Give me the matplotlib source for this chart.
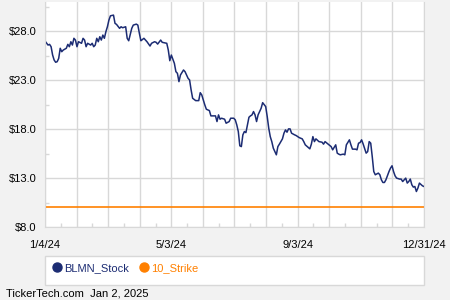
import numpy as np
import matplotlib
matplotlib.use("Agg")
import matplotlib.pyplot as plt
from matplotlib.lines import Line2D

plt.rcParams['font.family'] = ['Liberation Sans', 'DejaVu Sans']

# trading day index (0 = 1/4/24, 249 = 12/31/24) and closing price
day = [0, 2, 3, 4, 5, 6, 7, 8, 9, 10, 11, 12, 14, 15, 16, 17, 18, 19, 20, 21,
       22, 24, 25, 26, 27, 28, 30, 31, 32, 33, 34, 35, 36, 37, 38, 39, 40, 41, 42, 43,
       45, 46, 47, 49, 50, 51, 53, 54, 55, 57, 58, 60, 61, 62, 63, 65, 67, 69, 70, 72,
       73, 74, 76, 77, 80, 81, 82, 83, 85, 86, 87, 88, 89, 91, 92, 94, 95, 96, 97, 99,
       100, 101, 102, 103, 105, 106, 108, 109, 110, 112, 113, 114, 115, 116, 118, 119, 121, 122, 124, 125,
       126, 127, 128, 129, 130, 131, 132, 134, 135, 136, 137, 138, 139, 140, 141, 142, 143, 145, 146, 147,
       148, 149, 150, 152, 153, 154, 156, 157, 158, 159, 160, 161, 162, 164, 165, 167, 169, 170, 171, 174,
       175, 176, 177, 178, 180, 182, 183, 184, 186, 187, 188, 189, 191, 192, 193, 194, 196, 197, 198, 200,
       201, 202, 204, 205, 206, 207, 208, 209, 211, 212, 213, 214, 215, 216, 217, 219, 220, 221, 222, 223,
       224, 226, 227, 228, 229, 230, 231, 233, 234, 235, 237, 238, 239, 240, 241, 242, 243, 244, 245, 246,
       248, 249]
price = [27.01, 26.60, 26.67, 26.43, 25.58, 25.07, 24.84, 24.90, 25.24, 26.27, 25.92, 26.09, 26.27, 26.67, 26.43, 26.94, 26.60, 27.29, 27.11, 26.43,
         26.94, 26.78, 27.29, 27.11, 26.43, 26.78, 26.60, 26.78, 26.43, 26.60, 27.29, 26.94, 27.45, 27.11, 27.62, 27.29, 27.96, 28.47, 29.15, 29.59,
         29.66, 28.82, 28.71, 28.31, 28.47, 28.37, 28.47, 27.29, 27.04, 28.31, 28.64, 28.74, 28.64, 27.80, 27.04, 27.29, 26.94, 26.50, 26.78, 26.94,
         26.88, 26.70, 27.11, 26.88, 26.78, 26.09, 25.00, 25.58, 24.73, 23.88, 23.71, 22.86, 23.54, 24.05, 23.88, 23.20, 23.03, 22.01, 21.16, 20.92,
         20.92, 20.92, 21.73, 21.50, 20.48, 20.04, 19.90, 19.36, 19.36, 19.36, 18.78, 19.46, 19.02, 19.12, 19.02, 18.61, 18.78, 19.12, 19.12, 18.95,
         18.44, 17.76, 16.30, 16.22, 17.42, 17.76, 17.65, 19.22, 19.36, 19.46, 19.80, 19.46, 18.78, 19.46, 19.80, 20.14, 20.71, 20.31, 19.29, 18.10,
         17.24, 16.73, 16.06, 15.38, 16.22, 16.47, 17.01, 17.59, 17.93, 17.69, 18.03, 18.03, 17.59, 17.42, 17.35, 17.14, 17.01, 16.73, 16.40, 15.99,
         16.47, 17.24, 16.73, 17.01, 16.73, 16.67, 16.47, 16.73, 16.47, 16.33, 16.22, 15.89, 16.40, 15.55, 15.45, 15.38, 15.45, 15.38, 16.40, 16.91,
         16.40, 15.96, 15.96, 15.89, 16.57, 16.63, 16.91, 16.50, 15.55, 15.71, 16.73, 16.57, 15.20, 13.67, 13.34, 13.51, 13.34, 12.83, 12.55, 12.55,
         12.83, 13.67, 14.02, 14.26, 13.67, 13.23, 13.00, 12.90, 12.90, 12.65, 13.00, 12.49, 12.65, 12.90, 12.32, 12.08, 12.14, 11.63, 11.98, 12.49,
         12.21, 12.14]
strike = 10.0

yticks = [8, 13, 18, 23, 28]
xlabels = ["1/4/24", "5/3/24", "9/3/24", "12/31/24"]

navy = "#1c2c73"
orange = "#ff8000"
grid = "#d8d8d8"

fig = plt.figure(figsize=(4.5, 3), dpi=100, facecolor="#f2f2f2")
ax = fig.add_axes([0.1, 0.2433, 0.8422, 0.75])
ax.set_facecolor("white")

ax.plot(day, price, color=navy, lw=1.1)
ax.axhline(strike, color=orange, lw=1.2)

last = 249
ax.set_xlim(0, last)
ax.set_ylim(8, 31)

# 12 equal intervals, a label on every 4th line
grid_days = np.linspace(0, last, 13)
ax.set_xticks(grid_days)
ax.set_xticklabels([xlabels[i // 4] if i % 4 == 0 else "" for i in range(13)])
ax.set_xticks((grid_days[:-1] + grid_days[1:]) / 2, minor=True)
ax.set_yticks(yticks)
ax.set_yticklabels(["$%.1f" % v for v in yticks])
ax.set_yticks([v + 2.5 for v in yticks], minor=True)

ax.grid(True, which="major", color=grid, lw=1.0)
ax.tick_params(which="major", length=0, labelsize=8, pad=6)
ax.tick_params(axis="x", which="major", pad=9)
ax.tick_params(which="minor", direction="in", length=3, color=grid, width=1)
for s in ax.spines.values():
    s.set_color(grid)
ax.spines["top"].set_visible(False)

handles = [Line2D([], [], ls="", marker="o", ms=6.5, color=navy),
           Line2D([], [], ls="", marker="o", ms=6.5, color=orange)]
leg = fig.legend(handles, ["BLMN_Stock", "10_Strike"], loc="upper left",
                 bbox_to_anchor=(0.1, 1 - 285 / 300, 0.8422, 29 / 300),
                 ncol=2, frameon=False, fontsize=8,
                 handletextpad=0.1, borderpad=0.3, borderaxespad=0.3,
                 columnspacing=0.9, handlelength=1.0)
leg.get_texts()[0].set_color(navy)
leg.get_texts()[1].set_color(orange)
box = plt.Rectangle((0.1, 1 - 285 / 300), 0.8422, 29 / 300, transform=fig.transFigure,
                    facecolor="white", edgecolor=grid, lw=1.0, zorder=0)
fig.patches.append(box)

fig.text(0.013, 0.01, "TickerTech.com  Jan 2, 2025", fontsize=8, color="black")

fig.savefig("out.png", dpi=100, facecolor=fig.get_facecolor())
